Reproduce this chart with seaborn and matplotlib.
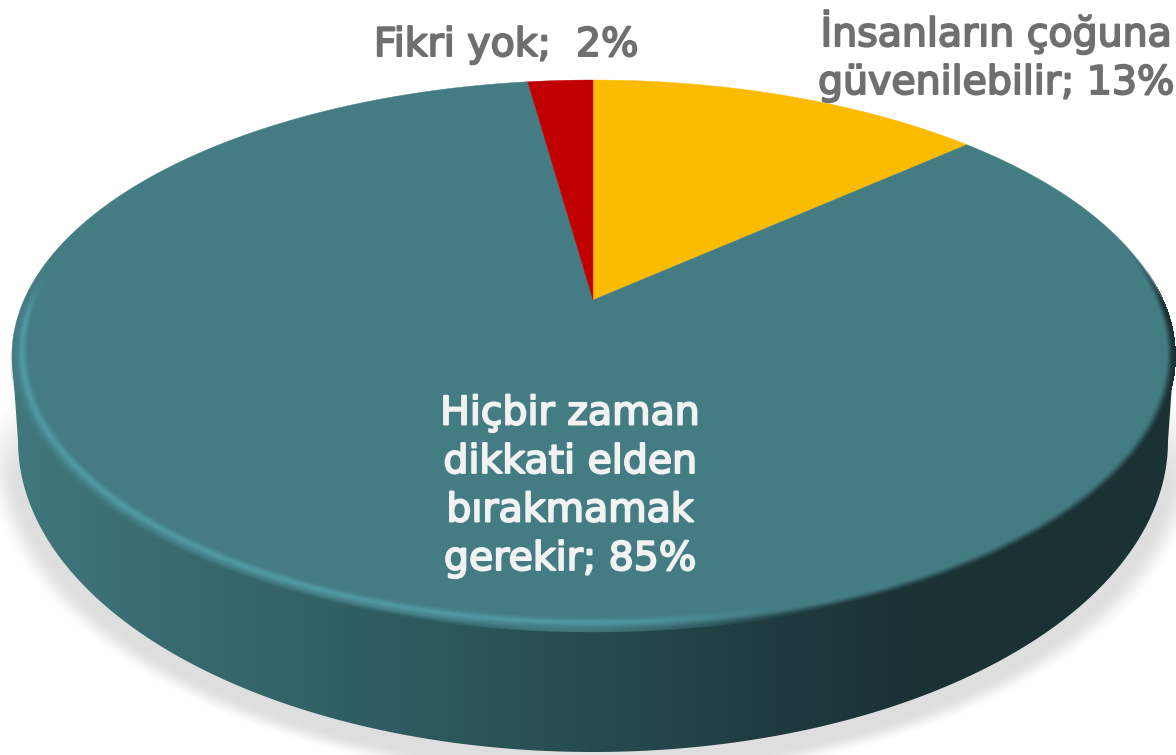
import numpy as np
import matplotlib
matplotlib.use("Agg")
import matplotlib.pyplot as plt
import matplotlib.patheffects as pe
from matplotlib.patches import Polygon
from matplotlib.colors import LinearSegmentedColormap, to_rgb
import seaborn as sns

# slices, clockwise from 12 o'clock
labels = ["İnsanların çoğuna\ngüvenilebilir; 13%", "Hiçbir zaman\ndikkati elden\nbırakmamak\ngerekir; 85%", "Fikri yok;  2%"]
values = [13.4, 84.4, 2.2]
slice_colors = ["#FBBC00", "#447C84", "#C00000"]

# pixel geometry of the tilted disc
W, H = 1176, 755
APEX_X, APEX_Y = 593, 300
K = 0.2029
A_TOP, B_TOP = 569, 264.6
BOT_CY, BOT_A, BOT_B = 441, 575, 311

sns.set_theme(style="white")
plt.rcParams["font.family"] = ["DejaVu Sans"]


def project(x, y):
	# unit disc -> picture, perspective moves the centre up
	w = 1 + K * y
	return APEX_X + A_TOP * x / w, APEX_Y - B_TOP * y / w


def unproject(px, py):
	yd = py - APEX_Y
	d = B_TOP + K * yd
	y = -yd / d
	x = (px - APEX_X) * (B_TOP / d) / A_TOP
	return x, y


def smooth(v, a, b):
	t = np.clip((v - a) / (b - a), 0, 1)
	return t * t * (3 - 2 * t)


fig = plt.figure(figsize=(W / 100, H / 100), dpi=100)
ax = fig.add_axes([0, 0, 1, 1])

wedges, _ = ax.pie(values, colors=slice_colors, startangle=90, counterclock=False)
ax.set_aspect("auto")

xx, yy = np.meshgrid(np.arange(W) + 0.5, np.arange(H) + 0.5)
ext = (0, W, H, 0)

# soft shadow under the body
u = np.hypot((xx - APEX_X) / (BOT_A + 6), (yy - BOT_CY - 10) / (BOT_B + 6))
shadow = (1 - smooth(u, 0.995, 1.05)) * 0.13 * smooth(yy, 380, 490)
ax.imshow(np.dstack([np.zeros_like(xx)] * 3 + [shadow]), extent=ext, aspect="auto", zorder=1)

# side wall, shaded from left to right
side_cmap = LinearSegmentedColormap.from_list("side", [
	(0.0, "#42787E"), (0.17, "#36696E"), (0.34, "#2E5B5F"),
	(0.5, "#264C50"), (0.66, "#1F3B3F"), (0.78, "#1B3235"), (1.0, "#1B3235")])
grad = ax.imshow(xx / W, extent=ext, aspect="auto", cmap=side_cmap, vmin=0, vmax=1, zorder=2)
t = np.linspace(0, np.pi, 300)
low_x = APEX_X + BOT_A * np.cos(t)
low_y = BOT_CY + BOT_B * np.sin(t)
top_l = (APEX_X - 581, 356)
top_r = (APEX_X + 581, 356)
body = Polygon(np.vstack([top_r, np.column_stack([low_x, low_y]), top_l]), closed=True,
	transform=ax.transData, fc="none", ec="none")
ax.add_patch(body)
grad.set_clip_path(body)

# top face: the pie's own slices put through the perspective
for wedge, col in zip(wedges, slice_colors):
	th = np.radians(np.linspace(wedge.theta1, wedge.theta2, 300))
	xs = np.r_[0, wedge.r * np.cos(th)]
	ys = np.r_[0, wedge.r * np.sin(th)]
	px, py = project(xs, ys)
	ax.add_patch(Polygon(np.column_stack([px, py]), closed=True, fc=col, ec=col, lw=0.3, zorder=3))
	wedge.remove()

# rim of the top face: highlight on the left, dark blur on the right
dx, dy = unproject(xx, yy)
r = np.hypot(dx, dy)
inside = (B_TOP + K * (yy - APEX_Y) > 0) & (r <= 1.003)
rim_w = 0.026 + 0.014 * np.clip(-dy, 0, 1)
rim_c = np.clip((1 - r) / rim_w, 0, 1)
low = 1 - smooth(dy, -0.1, 0.12)
hl_w = (1 - smooth(dx, -0.02, 0.3)) * low
dk_w = smooth(dx, -0.1, 0.35) * (1 - smooth(dy, -0.05, 0.2))
hl_a = np.exp(-((rim_c - 0.58) / 0.22) ** 2) * (1 - smooth(rim_c, 0.85, 1)) * hl_w
dk_a = (1 - smooth(rim_c, 0.0, 0.5)) * dk_w
edge_a = (1 - smooth(rim_c, 0.0, 0.3)) * (1 - smooth(dx, -0.3, 0.0)) * (1 - smooth(dy, -0.5, -0.15)) * 0.9

hl = np.array(to_rgb("#5099A1"))
side_rgb = side_cmap(xx / W)[..., :3]
rim = np.zeros((H, W, 4))
alpha = 1 - (1 - hl_a) * (1 - dk_a) * (1 - edge_a)
mix = np.maximum(dk_a, edge_a) / np.maximum(hl_a + np.maximum(dk_a, edge_a), 1e-6)
rim[..., :3] = hl * (1 - mix[..., None]) + side_rgb * mix[..., None]
rim[..., 3] = np.where(inside, alpha, 0)
ax.imshow(rim, extent=ext, aspect="auto", zorder=4)

ax.set_xlim(0, W)
ax.set_ylim(H, 0)
ax.axis("off")

# labels, same order as the slices
text_gray = "#6F6F6F"
text_white = "#F2F2F2"
gray_fx = [pe.withStroke(linewidth=1.4, foreground=text_gray)]
white_fx = [pe.withStroke(linewidth=1.4, foreground=text_white)]
ax.text(996, 94, labels[0], ha="center", va="baseline", color=text_gray, fontsize=28.4,
	linespacing=1.33, zorder=5, path_effects=gray_fx)
ax.text(570, 570, labels[1], ha="center", va="baseline", color=text_white, fontsize=28.4,
	linespacing=1.35, zorder=5, path_effects=white_fx)
ax.text(506, 56, labels[2], ha="center", va="baseline", color=text_gray, fontsize=28.4, zorder=5, path_effects=gray_fx)

fig.savefig("out.png", dpi=100)
